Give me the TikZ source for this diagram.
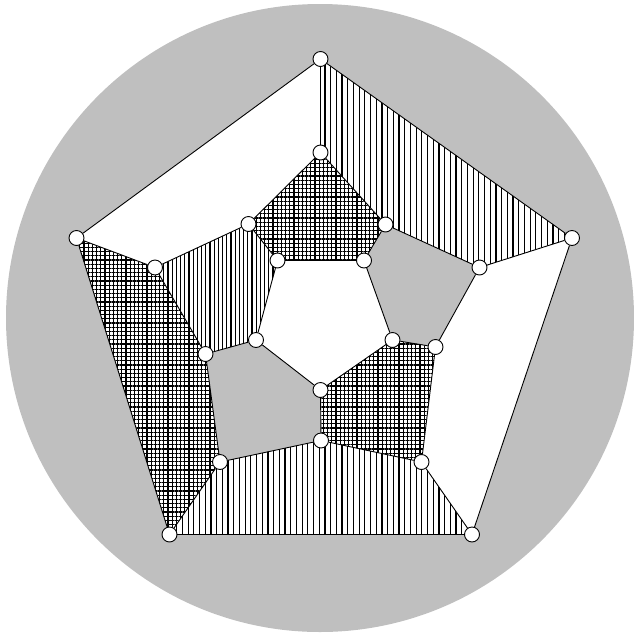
\documentclass[tikz,border=0pt]{standalone}
\usetikzlibrary{patterns.meta,backgrounds}
\definecolor{bggray}{RGB}{191,191,191}
\tikzset{
  vx/.style={circle,draw=black,fill=white,line width=0.9pt,minimum size=15pt,inner sep=0pt},
  edge/.style={draw=black,line width=0.9pt},
  vface/.style={fill=white,postaction={pattern={Lines[angle=90,distance=5.7pt,line width=1.2pt]}}},
  vfacefine/.style={fill=white,postaction={pattern={Lines[angle=90,distance=4.2pt,line width=1.1pt]}}},
  gface/.style={fill=white,postaction={pattern={Hatch[angle=0,distance=4.2pt,line width=1.1pt]}}},
  sface/.style={fill=bggray},
  wface/.style={fill=white}
}
\begin{document}
\begin{tikzpicture}[x=1pt,y=-1pt]
\useasboundingbox (0,0) rectangle (634,638);
% vertices
\node[vx] (O1) at (320.5,59) {};
\node[vx] (O2) at (572,238) {};
\node[vx] (O3) at (472,534.5) {};
\node[vx] (O4) at (169.5,534.5) {};
\node[vx] (O5) at (76.5,238) {};
\node[vx] (M1) at (320.5,152.5) {};
\node[vx] (M2) at (385.5,224.5) {};
\node[vx] (M3) at (479.5,267.5) {};
\node[vx] (M4) at (435.5,347) {};
\node[vx] (M5) at (421.5,462) {};
\node[vx] (M6) at (321,440.5) {};
\node[vx] (M7) at (220,462) {};
\node[vx] (M8) at (205.5,354) {};
\node[vx] (M9) at (155,267.5) {};
\node[vx] (M10) at (248.5,224) {};
\node[vx] (I1) at (277.5,260.5) {};
\node[vx] (I2) at (364,260.5) {};
\node[vx] (I3) at (392.5,340) {};
\node[vx] (I4) at (320.5,390) {};
\node[vx] (I5) at (256,340) {};
% edges
\foreach \a/\b in {O1/O2,O2/O3,O3/O4,O4/O5,O5/O1,
  O1/M1,O2/M3,O3/M5,O4/M7,O5/M9,
  M1/M2,M2/M3,M3/M4,M4/M5,M5/M6,M6/M7,M7/M8,M8/M9,M9/M10,M10/M1,
  M2/I2,M4/I3,M6/I4,M8/I5,M10/I1,
  I1/I2,I2/I3,I3/I4,I4/I5,I5/I1}
  \draw[edge] (\a) -- (\b);
% faces
\begin{scope}[on background layer]
\fill[bggray] (320,318) circle[radius=314];
\path[wface] (I1.center)--(I2.center)--(I3.center)--(I4.center)--(I5.center)--cycle;
\path[gface] (I1.center)--(I2.center)--(M2.center)--(M1.center)--(M10.center)--cycle;
\path[sface] (I2.center)--(I3.center)--(M4.center)--(M3.center)--(M2.center)--cycle;
\path[gface] (I3.center)--(I4.center)--(M6.center)--(M5.center)--(M4.center)--cycle;
\path[sface] (I4.center)--(I5.center)--(M8.center)--(M7.center)--(M6.center)--cycle;
\path[vfacefine] (I5.center)--(I1.center)--(M10.center)--(M9.center)--(M8.center)--cycle;
\path[vface] (O1.center)--(O2.center)--(M3.center)--(M2.center)--(M1.center)--cycle;
\path[wface] (O2.center)--(O3.center)--(M5.center)--(M4.center)--(M3.center)--cycle;
\path[vface] (O3.center)--(O4.center)--(M7.center)--(M6.center)--(M5.center)--cycle;
\path[gface] (O4.center)--(O5.center)--(M9.center)--(M8.center)--(M7.center)--cycle;
\path[wface] (O5.center)--(O1.center)--(M1.center)--(M10.center)--(M9.center)--cycle;
\end{scope}
\end{tikzpicture}
\end{document}
